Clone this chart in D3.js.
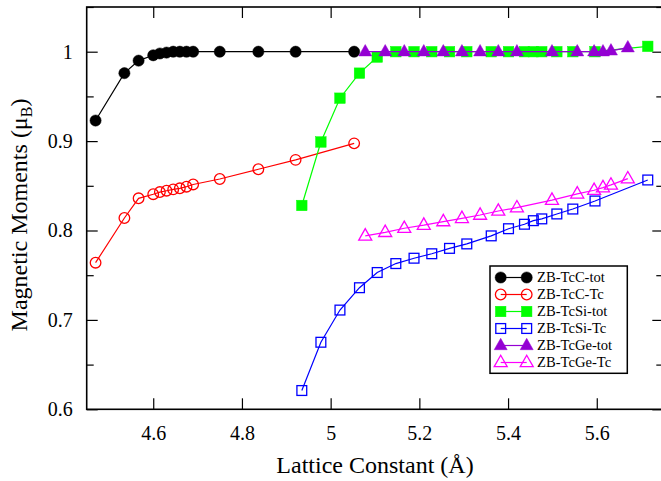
<!DOCTYPE html>
<html>
<head>
<meta charset="utf-8">
<script src="https://cdn.jsdelivr.net/npm/d3@7"></script>
<style>
html,body{margin:0;padding:0;background:#fff;}
svg{display:block;font-family:"Liberation Serif","Times New Roman",serif;}
</style>
</head>
<body>
<svg id="chart" width="661" height="481"></svg>
<script>
// ---- data ----
const xC = [4.47, 4.535, 4.567, 4.60, 4.615, 4.63, 4.645, 4.66, 4.675, 4.69, 4.75, 4.837, 4.921, 5.053];
const tcCtot = [0.923, 0.976, 0.990, 0.996, 0.998, 0.999, 1.0, 1.0, 1.0, 1.0, 1.0, 1.0, 1.0, 1.0];
const tcCTc = [0.764, 0.814, 0.836, 0.8406, 0.843, 0.8445, 0.846, 0.8472, 0.849, 0.8515, 0.8576, 0.8685, 0.879, 0.8975];

const xSi = [4.935, 4.978, 5.021, 5.065, 5.105, 5.147, 5.188, 5.228, 5.268, 5.307, 5.362, 5.401, 5.437, 5.457, 5.476, 5.51, 5.546, 5.596, 5.715];
const tcSiTot = [0.828, 0.899, 0.948, 0.976, 0.994, 1.0, 1.0, 1.0, 1.0, 1.0, 1.0, 1.0, 1.0, 1.0, 1.0, 1.0, 1.0, 1.0, 1.006];
const tcSiTc = [0.621, 0.675, 0.711, 0.736, 0.753, 0.763, 0.769, 0.774, 0.780, 0.785, 0.794, 0.802, 0.807, 0.811, 0.813, 0.8185, 0.824, 0.833, 0.8565];

const xGe = [5.078, 5.123, 5.166, 5.21, 5.254, 5.296, 5.337, 5.378, 5.42, 5.499, 5.556, 5.594, 5.614, 5.632, 5.67];
const tcGeTot = [1.0, 1.0, 1.0, 1.0, 1.0, 1.0, 1.0, 1.0, 1.0, 1.0, 1.0, 1.0, 1.0, 1.001, 1.0045];
const tcGeTc = [0.794, 0.798, 0.8025, 0.806, 0.810, 0.8136, 0.8173, 0.8218, 0.8255, 0.834, 0.841, 0.845, 0.848, 0.851, 0.858];

const seriesNames = ["ZB-TcC-tot", "ZB-TcC-Tc", "ZB-TcSi-tot", "ZB-TcSi-Tc", "ZB-TcGe-tot", "ZB-TcGe-Tc"];
const xTicks = [4.6, 4.8, 5.0, 5.2, 5.4, 5.6];
const yTicks = [0.6, 0.7, 0.8, 0.9, 1.0];
const yMinor = [0.65, 0.75, 0.85, 0.95, 1.05];
const xLabel = "Lattice Constant (Å)";

// ---- styles ----
const styles = [
  {color:"#000000", shape:"circle", fill:true},
  {color:"#ff0000", shape:"circle", fill:false},
  {color:"#00ff00", shape:"square", fill:true},
  {color:"#0000ff", shape:"square", fill:false},
  {color:"#9400d3", shape:"triangle", fill:true},
  {color:"#ff00ff", shape:"triangle", fill:false}
];
const series = [
  {name:seriesNames[0], x:xC, y:tcCtot},
  {name:seriesNames[1], x:xC, y:tcCTc},
  {name:seriesNames[2], x:xSi, y:tcSiTot},
  {name:seriesNames[3], x:xSi, y:tcSiTc},
  {name:seriesNames[4], x:xGe, y:tcGeTot},
  {name:seriesNames[5], x:xGe, y:tcGeTc}
];

const svg = d3.select("#chart");
const L = 86.7, R = 663.3, T = 7, B = 409.3;
const x = d3.scaleLinear().domain([4.45, 5.75]).range([L, R]);
const y = d3.scaleLinear().domain([0.6, 1.05]).range([B, T]);

// frame
svg.append("rect").attr("x", L).attr("y", T).attr("width", R - L).attr("height", B - T)
  .attr("fill", "none").attr("stroke", "#000").attr("stroke-width", 1.6);

// x axis ticks (bottom inward) with labels
const gx = svg.append("g").attr("transform", `translate(0,${B})`)
  .call(d3.axisBottom(x).tickValues(xTicks).tickSize(-11).tickPadding(17).tickFormat(d3.format("~g")));
gx.select(".domain").remove();
gx.selectAll("line").attr("stroke-width", 1.2);
gx.selectAll("text").attr("font-size", 20).attr("font-family", "Liberation Serif").attr("fill", "#000");
// top mirrored ticks
const gxt = svg.append("g").attr("transform", `translate(0,${T})`)
  .call(d3.axisTop(x).tickValues(xTicks).tickSize(-11).tickFormat(""));
gxt.select(".domain").remove();
gxt.selectAll("line").attr("stroke-width", 1.2);

// y axis
const gy = svg.append("g").attr("transform", `translate(${L},0)`)
  .call(d3.axisLeft(y).tickValues(yTicks).tickSize(-11).tickPadding(14).tickFormat(d3.format("~g")));
gy.select(".domain").remove();
gy.selectAll("line").attr("stroke-width", 1.2);
gy.selectAll("text").attr("font-size", 20).attr("font-family", "Liberation Serif").attr("fill", "#000");
const gym = svg.append("g").attr("transform", `translate(${L},0)`)
  .call(d3.axisLeft(y).tickValues(yMinor).tickSize(-7).tickFormat(""));
gym.select(".domain").remove();
gym.selectAll("line").attr("stroke-width", 1.2);
const gyr = svg.append("g").attr("transform", `translate(${R},0)`)
  .call(d3.axisRight(y).tickValues(yTicks).tickSize(-11).tickFormat(""));
gyr.select(".domain").remove();
gyr.selectAll("line").attr("stroke-width", 1.2);
const gyrm = svg.append("g").attr("transform", `translate(${R},0)`)
  .call(d3.axisRight(y).tickValues(yMinor).tickSize(-7).tickFormat(""));
gyrm.select(".domain").remove();
gyrm.selectAll("line").attr("stroke-width", 1.2);

// axis titles
svg.append("text").attr("x", (L + R) / 2).attr("y", 473).attr("text-anchor", "middle")
  .attr("font-size", 24).text(xLabel);
const yt = svg.append("text").attr("transform", `translate(27,215) rotate(-90)`)
  .attr("text-anchor", "middle").attr("font-size", 24);
yt.append("tspan").text("Magnetic Moments (μ");
yt.append("tspan").attr("font-size", 16).attr("dy", 5).text("B");
yt.append("tspan").attr("dy", -5).text(")");

// marker drawing
function marker(g, st, cx, cy) {
  const fo = st.fill ? 1 : 0;
  if (st.shape === "circle") {
    g.append("circle").attr("cx", cx).attr("cy", cy).attr("r", st.fill ? 5.6 : 5.3)
      .attr("fill", st.color).attr("fill-opacity", fo).attr("stroke", st.color).attr("stroke-width", st.fill ? 0.5 : 1.3);
  } else if (st.shape === "square") {
    const s = st.fill ? 10.5 : 9.8;
    g.append("rect").attr("x", cx - s / 2).attr("y", cy - s / 2).attr("width", s).attr("height", s)
      .attr("fill", st.color).attr("fill-opacity", fo).attr("stroke", st.color).attr("stroke-width", st.fill ? 0.5 : 1.3);
  } else {
    const p = d3.path();
    p.moveTo(cx, cy - 7.2); p.lineTo(cx + 6.5, cy + 4.2); p.lineTo(cx - 6.5, cy + 4.2); p.closePath();
    g.append("path").attr("d", p.toString())
      .attr("fill", st.color).attr("fill-opacity", fo).attr("stroke", st.color).attr("stroke-width", st.fill ? 0.5 : 1.3);
  }
}

const line = d3.line().x(d => x(d[0])).y(d => y(d[1]));
series.forEach((s, i) => {
  const st = styles[i];
  const pts = s.x.map((v, j) => [v, s.y[j]]);
  const g = svg.append("g");
  g.append("path").attr("d", line(pts)).attr("fill", "none").attr("stroke", st.color).attr("stroke-width", 1.2);
  pts.forEach(p => marker(g, st, x(p[0]), y(p[1])));
});

// legend
const lg = svg.append("g");
lg.append("rect").attr("x", 490).attr("y", 266).attr("width", 137.3).attr("height", 107.3)
  .attr("fill", "#fff").attr("stroke", "#000").attr("stroke-width", 1.5);
series.forEach((s, i) => {
  const st = styles[i];
  const yy = 277.5 + i * 17;
  lg.append("line").attr("x1", 500.7).attr("x2", 526.7).attr("y1", yy).attr("y2", yy)
    .attr("stroke", st.color).attr("stroke-width", 1.2);
  marker(lg, st, 500.7, yy);
  marker(lg, st, 526.7, yy);
  lg.append("text").attr("x", 537).attr("y", yy).attr("dy", "0.33em").attr("font-size", 14.6).text(s.name);
});
</script>
</body>
</html>
